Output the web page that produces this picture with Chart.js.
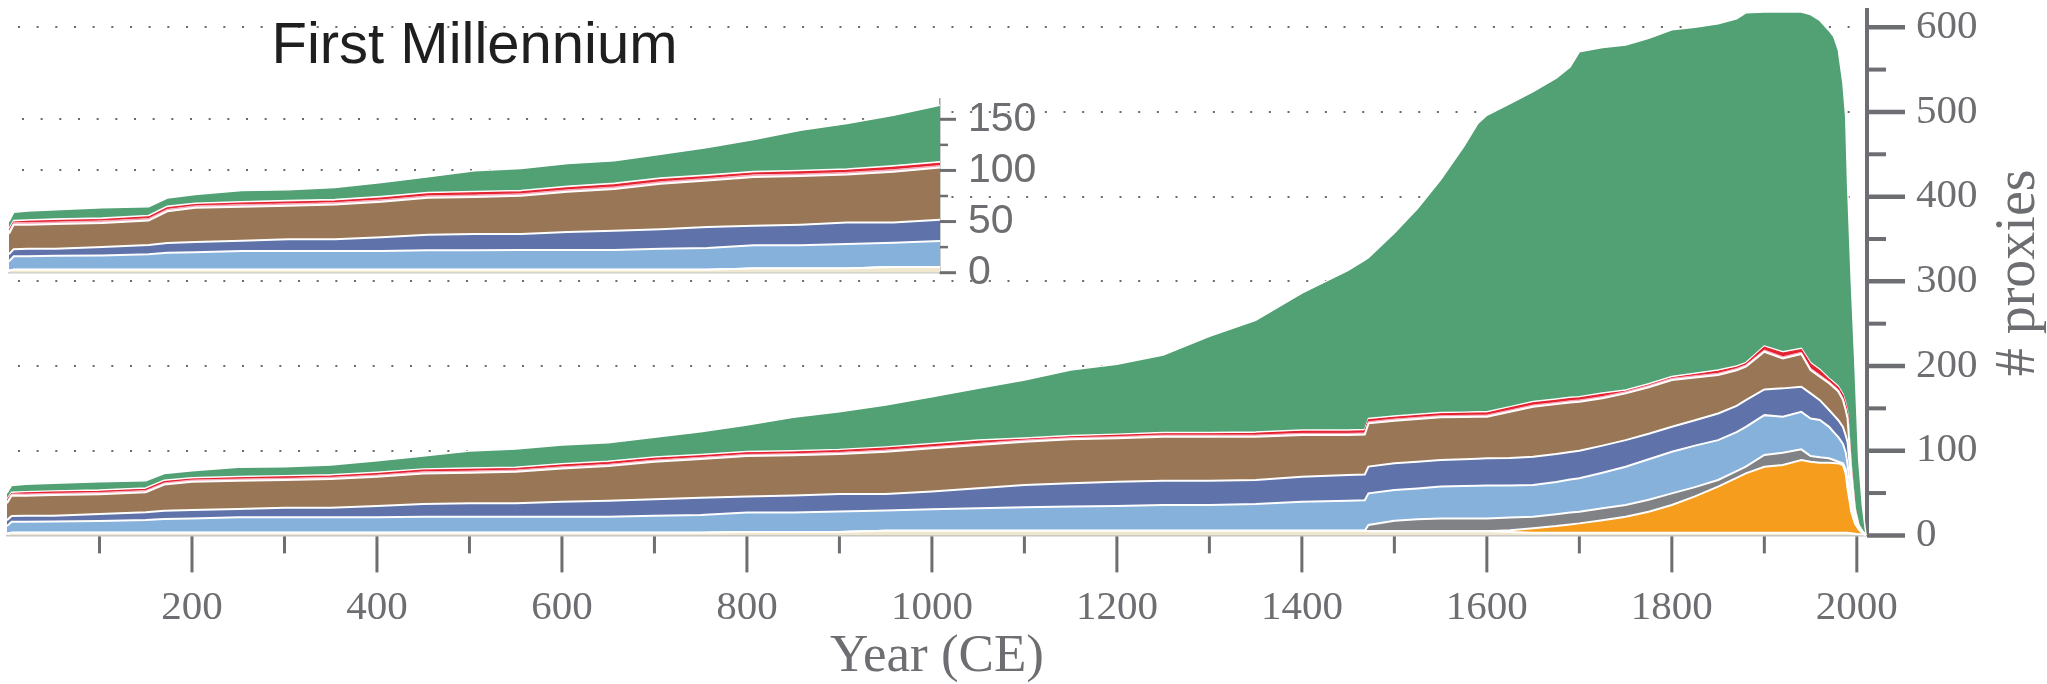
<!DOCTYPE html>
<html>
<head>
<meta charset="utf-8">
<script src="https://cdn.jsdelivr.net/npm/chart.js@4.4.1/dist/chart.umd.min.js"></script>
<style>
  html, body { margin: 0; padding: 0; background: #fff; overflow: hidden; }
  #wrap { position: relative; width: 2047px; height: 684px; }
  #wrap canvas { position: absolute; left: 0; top: 0; }
</style>
</head>
<body>
<div id="wrap">
  <canvas id="main" width="2047" height="684"></canvas>
  <canvas id="inset" width="1100" height="300"></canvas>
</div>
<script>
// sample years (CE)
const years = [0,5,20,50,100,150,170,200,250,300, 350,400,450,500,550,600,650,700,750,800,
  850,900,950,1000,1050,1100,1150,1200,1250,1300, 1350,1400,1450,1468,1472,1500,1525,1550,1575,1590,
  1600,1625,1650,1675,1690,1700,1725,1750,1775,1800, 1825,1850,1870,1880,1900,1920,1940,1950,1960,1970,
  1975,1980,1985,1988,1990,1994,1998,2002,2006,2010];

// number of proxies per archive type (stacked bottom -> top)
const pale = [2,3,3,3,3,3,3,3,3,3, 3,3,3,3,3,3,3,3,3,4,
  4,4,5.5,5.5,5.5,5.5,5.5,5.5,5.5,5.5, 5.5,5.5,5.5,5.5,5,5,5,5,5,5,
  5,4,3,3,3,3,3,3,3,3, 3,3,3,3,3,3,3,3,3,3,
  3,3,3,3,3,2.5,2,1.5,1,0];
const orange = [0,0,0,0,0,0,0,0,0,0, 0,0,0,0,0,0,0,0,0,0,
  0,0,0,0,0,0,0,0,0,0, 0,0,0,0,0,0,0,0,0,0,
  0,2,5.3,8,10,11.2,15,19.1,25,32.9, 43,54.6,65,70.3,78.1,80.1,86,84,82.8,82.8,
  82.5,82,80,70,52,25.5,12,5.5,1.5,0];
const gray = [0,0,0,0,0,0,0,0,0,0, 0,0,0,0,0,0,0,0,0,0,
  0,0,0,0,0,0,0,0,0,0, 0,0,0,0,7.3,12.4,14,15.1,15.1,15.1,
  15.1,15,13.8,14,14,13.8,14,13.8,14,13.7, 11,7.8,8,7.8,13.8,14.5,12.6,6.7,6.4,5.2,
  3.5,2,2,5,10,5,2,1,0.5,0];
const lightBlue = [9,13,13.2,13.5,13.9,15.1,16.5,17.1,18.3,18.3, 18.3,18.3,19,19,19.1,19.1,19.1,20.3,21.1,22.9,
  22.9,24.1,23.8,25.4,26.6,27.7,28.5,29.2,30.4,30.4, 31.6,34.3,35.5,36,37.4,36.2,36.5,37.5,38.1,38.4,
  38.7,38,37.4,38,39,39.4,42,45.2,48,49.2, 49,47.1,46,47.1,47.1,42.4,44.3,44.3,44,37.2,
  33,29,23,20,19,12,4,1,0.5,0];
const darkBlue = [7,7,7.1,6.8,8.3,9.1,9.5,9.9,9.9,11.4, 11.4,13.4,15.1,15.9,15.8,17.7,18.9,19.3,20.5,18.9,
  20.1,20.9,19.7,20.9,23.6,26.3,27.5,28.7,28.7,28.7, 28.3,29.5,30.3,30.5,31.5,31.5,31.5,31.5,31.8,32,
  32.2,32.5,33.4,33,32.5,32.5,32,31.4,30,29.4, 30,31.5,31,31.5,30.4,33.6,29.6,29.7,23.5,19.8,
  20,20,20,20,26,17,5,1,0.5,0];
const brown = [20,24,23.6,24.3,23.5,23.8,31,33.4,33.4,32.7, 33.9,34.6,36.1,36.1,37.3,39.3,40.9,44.4,45.6,47.9,
  47.5,47.1,49.8,51,51,51.1,51.9,51.2,51.9,51.9, 51.1,49.2,47.2,47,51.1,50.4,50.5,50.3,49.8,49.5,
  49.2,54.5,59.1,59,58.5,58,56,55.2,55,55.3, 50.5,45.4,42,39.5,44.5,35.4,38.7,27.6,27.8,31.6,
  33,34,32,30,28,13,5,2,1,0];
const pink = [2,2,2,2,2,2,2,2,2,2, 2,2,2,2,2,2,2,2,2,2,
  2,2,2,2,2,2,2,2,2,2, 2,2,2,2,2,2,2,2,2,2,
  2,2,2,2,2,2,2,2,2,2, 2,2,2,2,2,2,2,2,2,2,
  2,2,2,2,2,2,1,0.4,0.2,0];
const red = [1.5,0.5,1.2,1.4,1.3,1.5,1.5,1.1,1.4,1.6, 1.4,1.7,1.8,2,1.8,1.9,2.1,2,1.8,1.8,
  2,1.9,2.2,2.2,2.3,0.9,1.1,1.4,1.5,1.5, 2,2.4,2.5,2.5,2.2,2,2,2.1,2.2,2.5,
  2.3,2.5,2.5,2.5,2.5,2.4,2.5,0.5,0.5,0.5, 1.5,2.4,1.5,1.3,3.2,4.4,3.1,5.1,5,2.4,
  2.5,2.5,3.5,4.5,4.5,3.5,1.2,0.3,0.2,0];
const lightPink = [1.5,1.5,1.5,1.5,1.5,1.5,1.5,1.5,1.5,1.5, 1.5,1.5,1.5,1.5,1.5,1.5,1.5,1.5,1.5,1.5,
  1.5,1.5,1.5,1.5,1.5,1.5,1.5,1.5,1.5,1.5, 1.5,1.5,1.5,1.5,1.5,1.5,1.5,1.5,1.5,1.5,
  1.5,1.5,1.5,1.5,1.5,1.5,1.5,1.5,1.5,1.5, 1.5,1.5,1.5,1.5,1.5,1.5,1.5,1.5,1.5,1.5,
  1.5,1.5,1.5,1.5,1.5,1.5,0.8,0.3,0.1,0];
const green = [7,8,8.7,9,9.9,8.5,8,8.4,10.9,10.7, 11.7,13.7,15.2,20.1,21.5,22.2,22,23.3,27,31.3,
  39.4,44.5,49.5,55.3,61.2,68.5,77.3,82.5,91.5,113.5, 132,161.6,188.5,200,190,216,243,275,313.5,340,
  350,358,366,379,390,407.2,408,407.3,408,409.5, 408.5,408.7,410,413,394.4,401.1,397.2,411.1,412,410.5,
  408,397,367,338,269,218,167,77,29.5,0];

const mainTicksY = [0, 100, 200, 300, 400, 500, 600];
const insetTicksY = [0, 50, 100, 150];

const GREY = '#6d6e71';

const layers = [
  { label: 'pale', data: pale, fill: '#efe8cf', line: '#ffffff', w: 2 },
  { label: 'orange', data: orange, fill: '#f69d1e', line: '#ffffff', w: 2 },
  { label: 'grey', data: gray, fill: '#818285', line: '#ffffff', w: 2 },
  { label: 'light blue', data: lightBlue, fill: '#85b1db', line: '#ffffff', w: 2 },
  { label: 'dark blue', data: darkBlue, fill: '#5f73aa', line: '#ffffff', w: 2 },
  { label: 'brown', data: brown, fill: '#987656', line: '#ffffff', w: 2 },
  { label: 'pink', data: pink, fill: '#f6a9ba', line: '#f6a9ba', w: 1 },
  { label: 'red', data: red, fill: '#e4222e', line: '#e4222e', w: 1.2 },
  { label: 'light pink', data: lightPink, fill: '#fbd9e0', line: '#ffffff', w: 1.5 },
  { label: 'green', data: green, fill: '#52a174', line: '#ffffff', w: 1.5 }
];

function makeSets() {
  return layers.map((l, i) => ({
    label: l.label,
    data: years.map((yr, j) => ({ x: yr, y: l.data[j] })),
    backgroundColor: l.fill,
    borderColor: l.line,
    borderWidth: l.w,
    fill: i === 0 ? 'origin' : '-1',
    pointRadius: 0,
    tension: 0
  }));
}

// tick marks and rotated y title for the big chart
const mainMarks = {
  id: 'mainMarks',
  afterDraw(chart) {
    const { ctx } = chart;
    const x = chart.scales.x, y = chart.scales.y;
    ctx.save();
    ctx.strokeStyle = GREY;
    ctx.lineWidth = 3;
    for (let v = 100; v <= 2000; v += 100) {
      const px = x.getPixelForValue(v);
      ctx.beginPath();
      ctx.moveTo(px, x.top + 1);
      ctx.lineTo(px, x.top + (v % 200 ? 18 : 37));
      ctx.stroke();
    }
    for (let v = 0; v <= 600; v += 50) {
      const py = y.getPixelForValue(v);
      ctx.lineWidth = v % 100 ? 4 : 4.5;
      ctx.beginPath();
      ctx.moveTo(y.left, py);
      ctx.lineTo(y.left + (v % 100 ? 19 : 38), py);
      ctx.stroke();
    }
    ctx.translate(2019, (y.top + y.bottom) / 2);
    ctx.rotate(-Math.PI / 2);
    ctx.fillStyle = GREY;
    ctx.font = '56px "Liberation Serif"';
    ctx.textAlign = 'center';
    ctx.textBaseline = 'middle';
    ctx.fillText('# proxies', 0, 0);
    ctx.restore();
  }
};

new Chart(document.getElementById('main'), {
  type: 'line',
  data: { datasets: makeSets() },
  plugins: [mainMarks],
  options: {
    responsive: false,
    animation: false,
    layout: { padding: { left: 7, top: 10.3, right: 0, bottom: 0 } },
    plugins: { legend: { display: false }, tooltip: { enabled: false } },
    scales: {
      x: {
        type: 'linear', min: 0, max: 2011,
        grid: { display: false, drawTicks: false },
        border: { display: true, color: '#c4c4c4', width: 1.5 },
        ticks: {
          stepSize: 100, includeBounds: false, autoSkip: false, maxRotation: 0, padding: 48,
          color: GREY, font: { family: 'Liberation Serif', size: 41 },
          callback: v => (v > 0 && v % 200 === 0) ? String(v) : ''
        },
        title: {
          display: true, text: 'Year (CE)', color: GREY,
          font: { family: 'Liberation Serif', size: 53, lineHeight: 1 },
          padding: { top: 0, bottom: 0 }
        },
        afterFit: s => { s.height = 148.6; s.paddingLeft = 0; s.paddingRight = 0; }
      },
      y: {
        position: 'right', stacked: true, min: 0, max: 620,
        grid: {
          drawTicks: false, lineWidth: 2,
          color: c => (c.tick && c.tick.value > 0 && mainTicksY.includes(c.tick.value)) ? '#6a6a6a' : 'rgba(0,0,0,0)'
        },
        border: { display: true, color: GREY, width: 4, dash: [2, 16.67], dashOffset: 7.7 },
        ticks: {
          stepSize: 50, includeBounds: false, autoSkip: false, padding: 49,
          color: GREY, font: { family: 'Liberation Serif', size: 41 },
          callback: v => mainTicksY.includes(v) ? String(v) : ''
        },
        afterFit: s => { s.width = 180; s.paddingTop = 0; s.paddingBottom = 0; }
      }
    }
  }
});

// white panel, tick marks and heading for the first-millennium inset
const insetPaint = {
  id: 'insetPaint',
  beforeDraw(chart) {
    const { ctx, chartArea: a } = chart;
    ctx.save();
    ctx.fillStyle = '#ffffff';
    ctx.fillRect(a.left - 3, a.top, a.right - a.left + 3, a.bottom - a.top + 1);
    ctx.restore();
  },
  afterDraw(chart) {
    const { ctx, chartArea: a } = chart;
    const y = chart.scales.y;
    ctx.save();
    ctx.strokeStyle = GREY;
    for (let v = 0; v <= 150; v += 25) {
      const py = y.getPixelForValue(v);
      ctx.lineWidth = v % 50 ? 2.5 : 3;
      ctx.beginPath();
      ctx.moveTo(y.left, py);
      ctx.lineTo(y.left + (v % 50 ? 8 : 16), py);
      ctx.stroke();
    }
    ctx.fillStyle = '#1f1f1f';
    ctx.font = '58px "Liberation Sans"';
    ctx.textAlign = 'center';
    ctx.textBaseline = 'alphabetic';
    ctx.fillText('First Millennium', (a.left + a.right) / 2, 63);
    ctx.restore();
  }
};

new Chart(document.getElementById('inset'), {
  type: 'line',
  data: { datasets: makeSets() },
  plugins: [insetPaint],
  options: {
    responsive: false,
    animation: false,
    layout: { padding: { left: 9, top: 98.85, right: 0, bottom: 0 } },
    plugins: { legend: { display: false }, tooltip: { enabled: false } },
    scales: {
      x: {
        type: 'linear', min: 0, max: 1000,
        grid: { display: false, drawTicks: false },
        border: { display: true, color: '#c8c8c8', width: 1.5 },
        ticks: { display: false },
        afterFit: s => { s.height = 27.3; s.paddingLeft = 0; s.paddingRight = 0; }
      },
      y: {
        position: 'right', stacked: true, min: 0, max: 170,
        grid: {
          drawTicks: false, lineWidth: 2,
          color: c => (c.tick && c.tick.value > 0 && insetTicksY.includes(c.tick.value)) ? '#6a6a6a' : 'rgba(0,0,0,0)'
        },
        border: { display: true, color: '#a0a0a0', width: 1.5, dash: [2, 16.67], dashOffset: 5.7 },
        ticks: {
          stepSize: 25, includeBounds: false, autoSkip: false, padding: 28,
          color: GREY, font: { family: 'Liberation Sans', size: 41 },
          callback: v => insetTicksY.includes(v) ? String(v) : ''
        },
        afterFit: s => { s.width = 160; s.paddingTop = 0; s.paddingBottom = 0; }
      }
    }
  }
});
</script>
</body>
</html>
